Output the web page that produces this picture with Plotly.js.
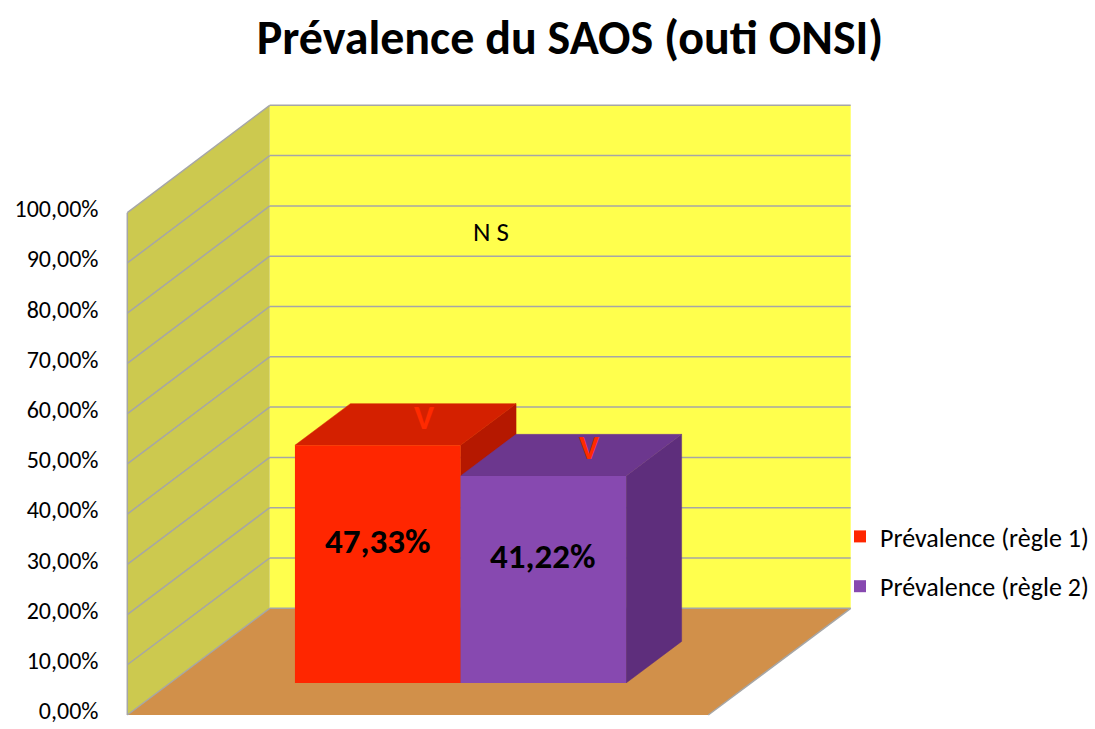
<!DOCTYPE html>
<html>
<head>
<meta charset="utf-8">
<script src="https://cdn.plot.ly/plotly-3.0.1.min.js"></script>
<style>html,body{margin:0;padding:0;background:#fff;}#chart{width:1095px;height:729px;}</style>
</head>
<body>
<div id="chart"></div>
<script>
// ---- data ----
const categories = ['Prévalence'];
const seriesNames = ['Prévalence (règle 1)', 'Prévalence (règle 2)'];
const seriesValues = [0.4733, 0.4122];
const tickValues = [0, 0.1, 0.2, 0.3, 0.4, 0.5, 0.6, 0.7, 0.8, 0.9, 1.0];
const noteText = 'N S';
const markText = 'V';
const titleText = 'Prévalence du SAOS (outi ONSI)';

// ---- style / geometry ----
const W = 1095, H = 729;
const FONT = 'Carlito, Calibri, Lato, sans-serif';
const frontColors = ['#FF2600', '#8749B0'];
const topColors = ['#D42000', '#6C378E'];
const sideColors = ['#B51800', '#5E2E7C'];
const GRID = '#A6A6A6';
const FRONT = {x0: 127.3, x1: 708.3, y0: 715, y1: 212.7};
const DEPTH = {dx: 142.4, dy: 106.7};
const barPlane = 0.30, barDepth = 0.39;
const bargap = 0.43;

const pxX = x => x / W;
const pxY = y => 1 - y / H;
const frontW = FRONT.x1 - FRONT.x0, frontH = FRONT.y0 - FRONT.y1;
const backH = 503;
const bx = barPlane * DEPTH.dx, by = barPlane * DEPTH.dy;

// geometry of bars in the bar plane (x2: range -0.5..0.5, y2: 0..1)
const barW = (1 - bargap) / 2;
const ddx = barDepth * DEPTH.dx / frontW;
const ddy = barDepth * DEPTH.dy / frontH;
const lefts = seriesValues.map((v, i) => -(1 - bargap) / 2 + i * barW);

// ---- shapes: walls & floor ----
const shapes = [];
const poly = pts => 'M' + pts.map(p => pxX(p[0]) + ',' + pxY(p[1])).join('L') + 'Z';
const bk = {x0: FRONT.x0 + DEPTH.dx, x1: FRONT.x1 + DEPTH.dx, y0: FRONT.y0 - DEPTH.dy};
shapes.push({type: 'path', xref: 'paper', yref: 'paper', layer: 'below',
  path: poly([[bk.x0, bk.y0], [bk.x1, bk.y0], [bk.x1, bk.y0 - backH], [bk.x0, bk.y0 - backH]]),
  fillcolor: '#FFFF4D', line: {width: 0}});
shapes.push({type: 'path', xref: 'paper', yref: 'paper', layer: 'below',
  path: poly([[FRONT.x0, FRONT.y0], [FRONT.x0, FRONT.y1], [bk.x0, bk.y0 - backH], [bk.x0, bk.y0]]),
  fillcolor: '#CCC94F', line: {width: 0}});
shapes.push({type: 'path', xref: 'paper', yref: 'paper', layer: 'below',
  path: poly([[FRONT.x0, FRONT.y0], [FRONT.x1, FRONT.y0], [bk.x1, bk.y0], [bk.x0, bk.y0]]),
  fillcolor: '#D1904A', line: {width: 0}});
tickValues.forEach(t => {
  const yf = FRONT.y0 - t * frontH, yb = bk.y0 - t * backH;
  shapes.push({type: 'line', xref: 'paper', yref: 'paper', layer: 'below',
    x0: pxX(FRONT.x0), y0: pxY(yf), x1: pxX(bk.x0), y1: pxY(yb), line: {color: GRID, width: 1.5}});
  shapes.push({type: 'line', xref: 'paper', yref: 'paper', layer: 'below',
    x0: pxX(bk.x0), y0: pxY(yb), x1: pxX(bk.x1), y1: pxY(yb), line: {color: GRID, width: 1.5}});
});
shapes.push({type: 'line', xref: 'paper', yref: 'paper', layer: 'below',
  x0: pxX(FRONT.x0), y0: pxY(FRONT.y0), x1: pxX(FRONT.x0), y1: pxY(FRONT.y1), line: {color: GRID, width: 1.5}});
shapes.push({type: 'line', xref: 'paper', yref: 'paper', layer: 'below',
  x0: pxX(FRONT.x1), y0: pxY(FRONT.y0), x1: pxX(bk.x1), y1: pxY(bk.y0), line: {color: GRID, width: 1.5}});

// ---- traces ----
const traces = [];
traces.push({type: 'scatter', x: [], y: [], xaxis: 'x', yaxis: 'y', showlegend: false, hoverinfo: 'skip'});
seriesValues.forEach((v, i) => {
  const L = lefts[i], R = L + barW;
  traces.push({type: 'scatter', xaxis: 'x2', yaxis: 'y2', mode: 'lines', fill: 'toself',
    x: [R, R + ddx, R + ddx, R, R], y: [0, ddy, v + ddy, v, 0],
    fillcolor: sideColors[i], line: {color: sideColors[i], width: 0.5}, showlegend: false, hoverinfo: 'skip'});
  traces.push({type: 'scatter', xaxis: 'x2', yaxis: 'y2', mode: 'lines', fill: 'toself',
    x: [L, R, R + ddx, L + ddx, L], y: [v, v, v + ddy, v + ddy, v],
    fillcolor: topColors[i], line: {color: topColors[i], width: 0.5}, showlegend: false, hoverinfo: 'skip'});
});
seriesValues.forEach((v, i) => {
  traces.push({type: 'bar', xaxis: 'x3', yaxis: 'y3', x: categories, y: [v], name: seriesNames[i],
    legendgroup: 'g' + i, marker: {color: frontColors[i], line: {width: 0}}, hoverinfo: 'name+y'});
});

// ---- annotations ----
const annotations = [];
seriesValues.forEach((v, i) => {
  const c = lefts[i] + barW / 2;
  annotations.push({xref: 'x2', yref: 'y2', x: c, y: v / 2, yshift: 23, showarrow: false,
    xanchor: 'center', yanchor: 'middle',
    text: '<b>' + (v * 100).toFixed(2).replace('.', ',') + '%</b>',
    font: {family: FONT, size: 35, color: '#000'}});
  annotations.push({xref: 'x2', yref: 'y2', x: c + 0.08, y: v + 0.056, showarrow: false,
    xanchor: 'center', yanchor: 'middle',
    text: '<b>' + markText + '</b>', font: {family: FONT, size: 34, color: '#FF2A00'}});
});
annotations.push({xref: 'paper', yref: 'paper', x: pxX(491), y: pxY(232), showarrow: false,
  xanchor: 'center', yanchor: 'middle',
  text: noteText, font: {family: FONT, size: 27, color: '#000'}});

const layout = {
  width: W, height: H,
  margin: {l: 0, r: 0, t: 0, b: 0},
  paper_bgcolor: '#fff', plot_bgcolor: 'rgba(0,0,0,0)',
  separators: ', ',
  font: {family: FONT, color: '#000'},
  title: {text: '<b>' + titleText + '</b>', x: pxX(570), xanchor: 'center', xref: 'paper',
    y: pxY(37), yanchor: 'middle', yref: 'paper', font: {family: FONT, size: 48, color: '#000'}},
  showlegend: true,
  legend: {x: pxX(840), y: pxY(513), xanchor: 'left', yanchor: 'top', traceorder: 'grouped',
    tracegroupgap: 13, bgcolor: 'rgba(0,0,0,0)', font: {family: FONT, size: 26, color: '#000'}},
  barmode: 'group', bargap: bargap, bargroupgap: 0,
  xaxis: {domain: [pxX(FRONT.x0), pxX(FRONT.x1)], range: [0, 1], visible: false, fixedrange: true},
  yaxis: {domain: [pxY(FRONT.y0), pxY(FRONT.y1)], range: [0, 1], tickvals: tickValues,
    tickformat: '.2%', showgrid: false, zeroline: false, showline: false,
    ticks: 'outside', ticklen: 23, tickcolor: 'rgba(0,0,0,0)', ticklabeloverflow: 'allow',
    ticklabelshift: -4,
    tickfont: {family: FONT, size: 24, color: '#000'}, fixedrange: true},
  xaxis2: {domain: [pxX(FRONT.x0 + bx), pxX(FRONT.x1 + bx)], range: [-0.5, 0.5], anchor: 'y2', visible: false, fixedrange: true},
  yaxis2: {domain: [pxY(FRONT.y0 - by), pxY(FRONT.y1 - by)], range: [0, 1], anchor: 'x2', visible: false, fixedrange: true},
  xaxis3: {overlaying: 'x2', type: 'category', range: [-0.5, 0.5], anchor: 'y3', visible: false, fixedrange: true},
  yaxis3: {overlaying: 'y2', range: [0, 1], anchor: 'x3', visible: false, fixedrange: true},
  shapes: shapes,
  annotations: annotations
};

Plotly.newPlot('chart', traces, layout, {displayModeBar: false});
</script>
</body>
</html>
